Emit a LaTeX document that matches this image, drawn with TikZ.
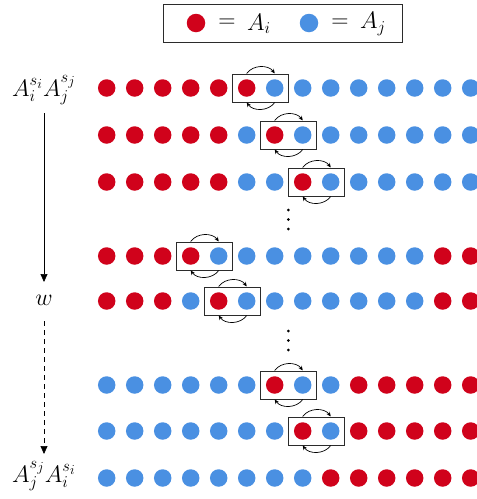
\documentclass[tikz,border=0pt]{standalone}
\usetikzlibrary{arrows.meta,calc}
\definecolor{dotr}{HTML}{D0021B}
\definecolor{dotb}{HTML}{4A90E2}
\definecolor{boxline}{HTML}{2B2B2B}
\tikzset{
  dot/.style={circle, inner sep=0pt, minimum size=17.5pt, draw=none},
  swapbox/.style={draw=boxline, line width=1pt, minimum width=56pt, minimum height=28pt, inner sep=0pt},
  swaparrow/.style={-{Stealth[length=4.5pt,width=4pt]}, line width=0.7pt, black},
  vararrow/.style={-{Triangle[length=8pt,width=7pt]}, line width=0.7pt, black},
  lab/.style={font=\huge, inner sep=0pt, scale=1.15},
  legendbox/.style={draw=boxline, line width=1pt, minimum width=239pt, minimum height=38.5pt, inner sep=0pt},
  vdot/.style={circle, fill=black, inner sep=0pt, minimum size=3pt}
}
\begin{document}
\begin{tikzpicture}[x=1pt,y=-1pt]
\useasboundingbox (0,0) rectangle (477,499);
% legend
\node[legendbox] (legend) at (282.8,23.5) {};
\node[dot, fill=dotr, minimum size=18.5pt] (legr) at (196,23) {};
\node[lab] (legeq1) at (227,23) {$=$};
\node[lab] (legai) at (259,24) {$A_i$};
\node[dot, fill=dotb, minimum size=18.5pt] (legb) at (309,23) {};
\node[lab] (legeq2) at (340,23) {$=$};
\node[lab] (legaj) at (373,24) {$A_j$};
% rows
\foreach \row/\y/\seq/\bx in {
  1/88/{r,r,r,r,r,r,b,b,b,b,b,b,b,b}/5,
  2/135/{r,r,r,r,r,b,r,b,b,b,b,b,b,b}/6,
  3/182/{r,r,r,r,r,b,b,r,b,b,b,b,b,b}/7,
  4/256/{r,r,r,r,b,b,b,b,b,b,b,b,r,r}/3,
  5/301/{r,r,r,b,r,b,b,b,b,b,b,b,r,r}/4,
  6/385/{b,b,b,b,b,b,r,b,b,r,r,r,r,r}/6,
  7/431/{b,b,b,b,b,b,b,r,b,r,r,r,r,r}/7,
  8/478/{b,b,b,b,b,b,b,b,r,r,r,r,r,r}/-1}{
  \foreach \c [count=\k from 0] in \seq {
    \node[dot, fill=dot\c] (d\row-\k) at ({106.7+28*\k},\y) {};
  }
  \ifnum\bx>-1
    \node[swapbox] (box\row) at ({106.7+28*\bx+14},\y) {};
    \draw[swaparrow] ([xshift=-14pt]box\row.north) to[bend left=55] ([xshift=14pt]box\row.north);
    \draw[swaparrow] ([xshift=14pt]box\row.south) to[bend left=55] ([xshift=-14pt]box\row.south);
  \fi
}
% vertical dots
\node[vdot] (va1) at (288.3,210) {};
\node[vdot] (va2) at (288.3,219.5) {};
\node[vdot] (va3) at (288.3,229) {};
\node[vdot] (vb1) at (288.3,331) {};
\node[vdot] (vb2) at (288.3,340.5) {};
\node[vdot] (vb3) at (288.3,350) {};
% left labels
\node[lab] (top) at (44,90) {$A_i^{s_i}A_j^{s_j}$};
\node[lab] (mid) at (44,300) {$w$};
\node[lab] (bot) at (44,476) {$A_j^{s_j}A_i^{s_i}$};
\coordinate (a1) at (44,113);
\coordinate (a2) at (44,282);
\coordinate (b1) at (44,321);
\coordinate (b2) at (44,454);
\draw[vararrow] (a1) -- (a2);
\draw[vararrow, dashed, dash pattern=on 5pt off 4pt] (b1) -- (b2);
\end{tikzpicture}
\end{document}
